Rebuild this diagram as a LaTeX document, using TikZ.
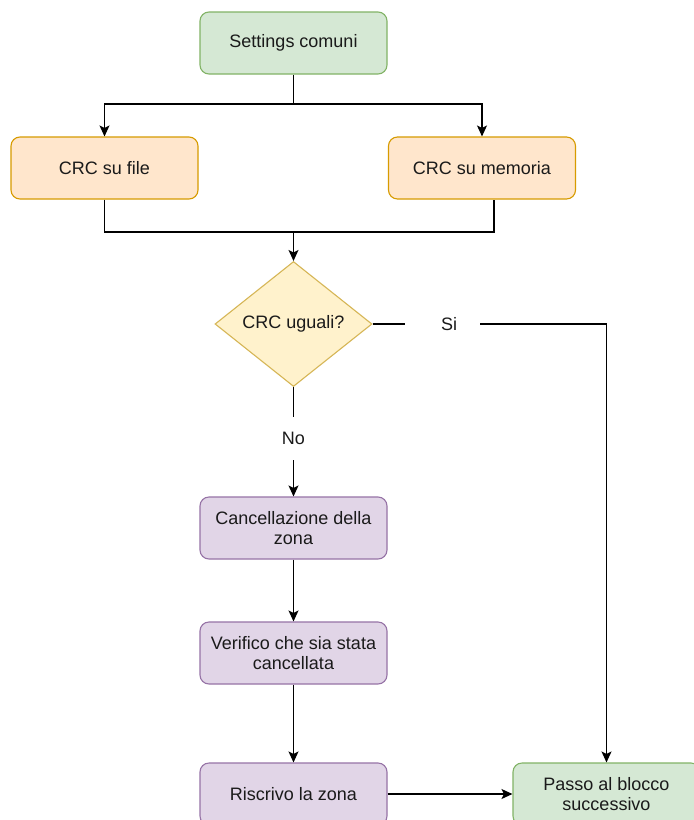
\documentclass[tikz,border=0pt]{standalone}
\usepackage{fontspec}
\setmainfont{Liberation Sans}
\usetikzlibrary{shapes.geometric,arrows.meta,calc}
\definecolor{greenfill}{HTML}{D5E8D4}
\definecolor{greenline}{HTML}{82B366}
\definecolor{orangefill}{HTML}{FFE6CC}
\definecolor{orangeline}{HTML}{D79B00}
\definecolor{yellowfill}{HTML}{FFF2CC}
\definecolor{yellowline}{HTML}{D6B656}
\definecolor{purplefill}{HTML}{E1D5E7}
\definecolor{purpleline}{HTML}{9673A6}
\definecolor{txt}{HTML}{1A1A1A}
\tikzset{
  labelfont/.style={font=\fontsize{18}{20.5}\selectfont},
  box/.style={rectangle, rounded corners=9pt, line width=1.1pt,
    minimum width=187pt, minimum height=62pt, inner sep=2pt,
    align=center, text=txt, labelfont},
  greenbox/.style={box, draw=greenline, fill=greenfill},
  orangebox/.style={box, draw=orangeline, fill=orangefill},
  purplebox/.style={box, draw=purpleline, fill=purplefill},
  decision/.style={diamond, aspect=1.256, draw=yellowline, fill=yellowfill,
    line width=1.1pt, minimum width=157pt, minimum height=125pt, inner sep=0pt,
    text=txt, labelfont},
  lbl/.style={inner sep=0pt, text=txt, labelfont},
  wire/.style={line width=1.3pt, draw=black},
  arr/.style={wire, -{Stealth[length=11pt,width=10pt,inset=2.5pt]}},
}
\begin{document}
\begin{tikzpicture}[x=1pt,y=-1pt]
\clip (0,0) rectangle (694,820);
\fill[white] (0,0) rectangle (694,820);

% process steps
\node[greenbox]  (set)   at (293.5,43)  {Settings comuni};
\node[orangebox] (file)  at (104.5,168) {CRC su file};
\node[orangebox] (mem)   at (482,168)   {CRC su memoria};
\node[decision]  (dec)   at (293.5,324) {\raisebox{4pt}{CRC uguali?}};
\node[purplebox] (canc)  at (293.5,528) {Cancellazione della\\zona};
\node[purplebox] (verif) at (293.5,653) {Verifico che sia stata\\cancellata};
\node[purplebox] (risc)  at (293.5,794) {Riscrivo la zona};
\node[greenbox]  (passo) at (606.5,794) {Passo al blocco\\successivo};

% branch labels
\node[lbl] (si) at (449,324) {Si};
\node[lbl, minimum height=43pt] (no) at (293.5,438.5) {No};

% junction points
\coordinate (split) at (293.5,104);
\coordinate (join)  at (293.5,232);
\coordinate (memout) at ($(mem.south)+(12,0)$);

% connectors
\draw[wire] (set.south) -- (split);
\draw[arr] (split) -| (file.north);
\draw[arr] (split) -| (mem.north);
\draw[wire] (file.south) |- (join) -| (memout);
\draw[arr] (join) -- (dec.north);
\draw[wire] (dec.east) -- ($(si.center)+(-44,0)$);
\draw[arr] ($(si.center)+(31,0)$) -| (passo.north);
\draw[wire] (dec.south) -- (no.north);
\draw[arr] (no.south) -- (canc.north);
\draw[arr] (canc.south) -- (verif.north);
\draw[arr] (verif.south) -- (risc.north);
\draw[arr] (risc.east) -- (passo.west);
\end{tikzpicture}
\end{document}
